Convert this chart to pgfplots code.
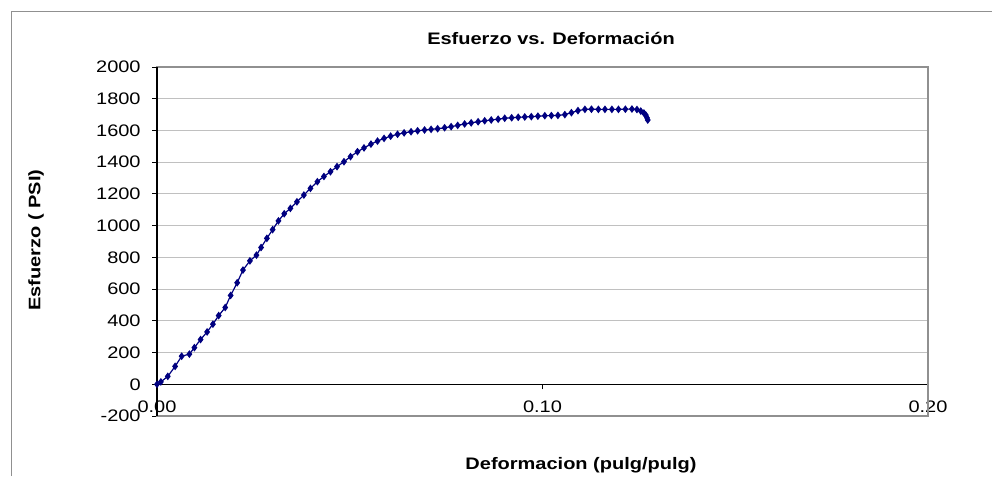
\documentclass[border=0pt]{standalone}
\usepackage{pgfplots}
\pgfplotsset{compat=1.18}
\usepackage{fontspec}
\setmainfont{Liberation Sans}[FakeStretch=1.2]
\definecolor{navy}{HTML}{000080}
\definecolor{gridgray}{HTML}{C0C0C0}
\definecolor{bordergray}{HTML}{909090}
\begin{document}
\begin{tikzpicture}[x=0.75pt,y=0.75pt]
\path[use as bounding box] (0,0) rectangle (992,476);
\draw[bordergray, line width=0.75pt] (11,0) -- (11,464) -- (992,464);
\begin{axis}[
  at={(117.75pt,45pt)}, anchor=south west, scale only axis,
  width=578.25pt, height=261.75pt,
  xmin=0, xmax=0.2, ymin=-200, ymax=2000,
  axis x line*=middle, axis y line*=left,
  hide obscured x ticks=false, hide obscured y ticks=false,
  axis line style={black, line width=1.1pt},
  xtick={0,0.1,0.2}, ytick={-200,0,...,2000},
  ymajorgrids, major grid style={gridgray, line width=0.8pt},
  tick align=outside, major tick length=3.75pt,
  tick style={black, line width=0.75pt},
  /pgf/number format/assume math mode=true,
  tick label style={font=\fontsize{12.5}{14}\selectfont},
  xticklabel style={yshift=-5.5pt, /pgf/number format/.cd, fixed, fixed zerofill, precision=2},
  yticklabel style={xshift=-5pt, /pgf/number format/.cd, fixed, int detect, 1000 sep={}},
  scaled x ticks=false, scaled y ticks=false,
  clip=false,
]
\draw[bordergray, line width=0.8pt] (rel axis cs:0,0) rectangle (rel axis cs:1,1);
\draw[black, line width=1.1pt] (rel axis cs:0,0) -- (rel axis cs:0,1);
\addplot[navy, line width=0.9pt, mark=diamond*, mark size=2.2pt, mark options={fill=navy, draw=navy}] table {
x y
0 0
0.001 15
0.0028 50
0.0047 113
0.0064 177
0.0084 190
0.0097 231
0.0113 282
0.013 330
0.0145 379
0.016 433
0.0177 484
0.0191 560
0.0208 640
0.0223 720
0.0241 778
0.0258 814
0.027 862
0.0285 920
0.0300 975
0.0315 1030
0.0330 1075
0.0346 1109
0.0363 1150
0.0381 1193
0.0398 1235
0.0416 1277
0.0433 1310
0.045 1340
0.0467 1372
0.0485 1403
0.0502 1435
0.052 1466
0.0537 1490
0.0555 1514
0.0572 1533
0.0589 1550
0.0606 1564
0.0624 1576
0.0641 1585
0.0659 1592
0.0676 1598
0.0694 1603
0.0711 1607
0.0728 1611
0.0746 1617
0.0763 1624
0.078 1632
0.0798 1641
0.0815 1648
0.0833 1655
0.085 1661
0.0867 1666
0.0885 1671
0.0902 1677
0.092 1680
0.0937 1683
0.0954 1685
0.0971 1687
0.0988 1690
0.1006 1693
0.1023 1694
0.104 1695
0.1058 1700
0.1075 1712
0.1092 1725
0.111 1733
0.1127 1734
0.1145 1733
0.1162 1733
0.118 1733
0.1197 1733
0.1215 1734
0.1232 1735
0.1245 1732
0.1255 1722
0.1263 1710
0.1268 1697
0.1271 1680
0.1273 1666
};
\end{axis}
\node[font=\fontsize{12.5}{15}\selectfont\bfseries] at (551,438) {Esfuerzo vs. Deformación};
\node[font=\fontsize{12.5}{15}\selectfont\bfseries] at (581,11) {Deformacion (pulg/pulg)};
\node[font=\fontsize{12.5}{15}\selectfont\bfseries, rotate=90] at (36,236) {Esfuerzo ( PSI)};
\end{tikzpicture}
\end{document}
